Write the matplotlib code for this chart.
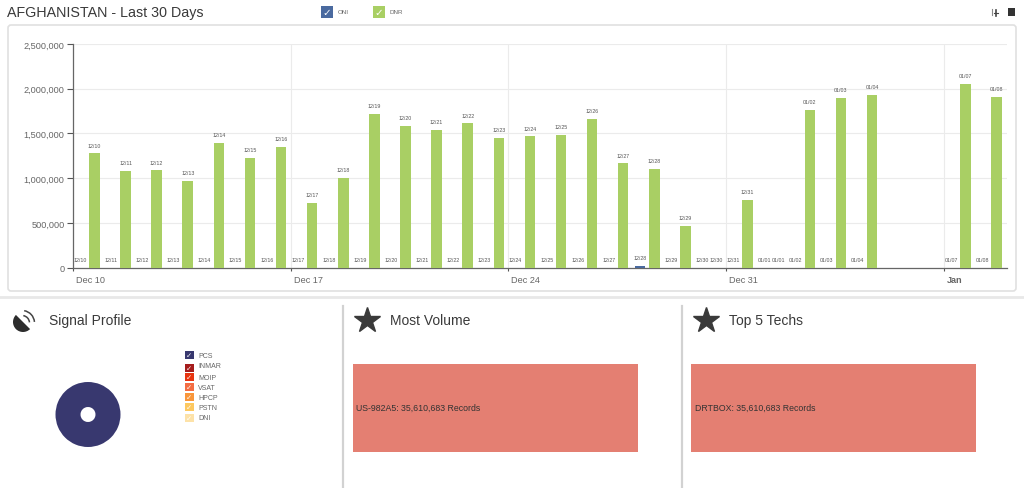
#!/usr/bin/env python3
"""Afghanistan 30 day record volume dashboard."""

import matplotlib
matplotlib.use("Agg")
import matplotlib.pyplot as plt
from matplotlib.patches import Arc, FancyBboxPatch, Rectangle, Wedge
from matplotlib.ticker import FuncFormatter
from matplotlib.transforms import ScaledTranslation

plt.rcParams["font.family"] = ["Liberation Sans", "DejaVu Sans"]

W, H = 1024, 489

# day number counted from Dec 10
days = [0, 1, 2, 3, 4, 5, 6, 7, 8, 9, 10, 11, 12, 13, 14, 15, 16, 17, 18, 19,
        20, 21, 22, 23, 24, 25, 28, 29]
day_labels = ["12/10", "12/11", "12/12", "12/13", "12/14", "12/15", "12/16",
              "12/17", "12/18", "12/19", "12/20", "12/21", "12/22", "12/23",
              "12/24", "12/25", "12/26", "12/27", "12/28", "12/29", "12/30",
              "12/31", "01/01", "01/02", "01/03", "01/04", "01/07", "01/08"]
dnr = [1278000, 1080000, 1088000, 969000, 1397000, 1226000, 1352000, 726000,
       1002000, 1714000, 1583000, 1539000, 1613000, 1449000, 1468000, 1483000,
       1661000, 1166000, 1103000, 466000, 0, 756000, 0, 1765000, 1896000,
       1930000, 2052000, 1910000]
oni = [0, 0, 0, 0, 0, 0, 0, 0, 0, 0, 0, 0, 0, 0, 0, 0, 0, 0, 20000, 0, 0, 0, 0,
       0, 0, 0, 0, 0]

week_ticks = [0, 7, 14, 21, 28]
week_labels = ["Dec 10", "Dec 17", "Dec 24", "Dec 31", "Jan"]
y_ticks = [0, 500000, 1000000, 1500000, 2000000, 2500000]

signal_names = ["PCS", "INMAR", "MOIP", "VSAT", "HPCP", "PSTN", "DNI"]
signal_values = [100, 0, 0, 0, 0, 0, 0]
signal_colors = ["#38386f", "#a51c1c", "#e8340f", "#f46d43", "#f9963b",
                 "#fdc860", "#fde2a8"]
signal_rows = [356, 366, 378, 388, 398, 408, 419]

GREEN = "#a9cf64"
BLUE = "#4a6a9f"
SALMON = "#e47f72"


def check_box(ax, x, y, size, color):
    ax.add_patch(Rectangle((x, y - size / 2), size, size, fc=color, ec="none"))
    ax.text(x + size / 2, y, "\u2713", family="DejaVu Sans", color="white",
            fontsize=size * 0.62, ha="center", va="center", fontweight="bold")


fig = plt.figure(figsize=(W / 100, H / 100), dpi=100, facecolor="white")

# page furniture is drawn in pixel coordinates
bg = fig.add_axes([0, 0, 1, 1], zorder=0)
bg.set_xlim(0, W)
bg.set_ylim(H, 0)
bg.axis("off")

bg.text(7, 13, "AFGHANISTAN - Last 30 Days", fontsize=10.3, color="#3a3a3a",
        va="center")
check_box(bg, 321, 13, 12, BLUE)
bg.text(338, 13, "ONI", fontsize=4.5, color="#666666", va="center")
check_box(bg, 373, 13, 12, GREEN)
bg.text(390, 13, "DNR", fontsize=4.5, color="#666666", va="center")

# top right buttons
bg.add_patch(Rectangle((1008, 9), 6.5, 8, fc="#333333", ec="none"))
bg.plot([992, 992], [10, 16], color="#888888", lw=0.8)
bg.plot([996, 996], [11, 17], color="#444444", lw=1.2)
bg.plot([994, 998], [14, 14], color="#444444", lw=0.8)

bg.add_patch(FancyBboxPatch((8, 26), 1008, 266,
                            boxstyle="round,pad=0,rounding_size=3",
                            fc="white", ec="#e0e0e0", lw=1.2))
bg.plot([0, W], [298, 298], color="#e8e8e8", lw=2)
for x in [343, 682]:
    bg.plot([x, x], [307, H], color="#d2d2d2", lw=1.6)

# panel headings
bg.text(49, 321, "Signal Profile", fontsize=10, color="#3a3a3a", va="center")
bg.text(390, 321, "Most Volume", fontsize=10, color="#3a3a3a", va="center")
bg.text(729, 321, "Top 5 Techs", fontsize=10, color="#3a3a3a", va="center")
bg.plot([367, 706], [321, 321], ls="none", marker="*", ms=19, color="#3a3a3a",
        mec="#3a3a3a")

# satellite dish icon
bg.add_patch(Wedge((23, 323), 10, 45, 225, fc="#2d2d2d", ec="none"))
for d in [15, 25]:
    bg.add_patch(Arc((22, 324), d, d, theta1=-80, theta2=-5, color="#444444",
                     lw=1.1))

# red summary boxes
bg.add_patch(Rectangle((353, 364.5), 285, 88, fc=SALMON, ec="none"))
bg.add_patch(Rectangle((691, 364.5), 285, 88, fc=SALMON, ec="none"))
bg.text(356, 408.5, "US-982A5: 35,610,683 Records", fontsize=6.3,
        color="#333333", va="center")
bg.text(695, 408.5, "DRTBOX: 35,610,683 Records", fontsize=6.3,
        color="#333333", va="center")

# signal legend
for name, color, row in zip(signal_names, signal_colors, signal_rows):
    box_y = row + 3 if name == "INMAR" else row
    check_box(bg, 185, box_y, 8.5, color)
    bg.text(198, row, name, fontsize=5, color="#666666", va="center")

# main bar chart
ax = fig.add_axes([73 / W, 1 - 268.7 / H, 934 / W, 223.7 / H], zorder=1)
ax.patch.set_alpha(0)
x_oni = [d + 0.23 for d in days]
x_dnr = [d + 0.69 for d in days]
ax.bar(x_oni, oni, width=0.34, color=BLUE, zorder=3)
ax.bar(x_dnr, dnr, width=0.34, color=GREEN, zorder=3)
for xs, vals in [(x_oni, oni), (x_dnr, dnr)]:
    for x, v, label in zip(xs, vals, day_labels):
        ax.annotate(label, (x, v), xytext=(0, 6), textcoords="offset points",
                    ha="center", va="center", fontsize=3.8, color="#555555",
                    zorder=4)

ax.set_xlim(0, 30.03)
ax.set_ylim(0, 2500000)
ax.set_yticks(y_ticks)
ax.yaxis.set_major_formatter(FuncFormatter(lambda v, _: f"{int(v):,}"))
ax.set_xticks(week_ticks)
ax.set_xticklabels(week_labels, ha="left")
ax.get_xticklabels()[-1].set_fontweight("bold")
ax.tick_params(axis="y", labelsize=6.6, labelcolor="#666666", length=4,
               width=0.8, color="#555555", pad=2)
ax.tick_params(axis="x", labelsize=6.6, labelcolor="#666666", length=2,
               width=0.8, color="#555555", pad=3.5)
# date labels sit a little right of their tick
nudge = ScaledTranslation(3 / 100, 0, fig.dpi_scale_trans)
for tick in ax.get_xticklabels():
    tick.set_transform(tick.get_transform() + nudge)
ax.grid(True, color="#ebebeb", lw=0.8, zorder=0)
ax.set_axisbelow(True)
for side in ["top", "right"]:
    ax.spines[side].set_visible(False)
for side in ["left", "bottom"]:
    ax.spines[side].set_color("#666666")
    ax.spines[side].set_linewidth(0.9)

# donut
pie_ax = fig.add_axes([(88 - 32.5) / W, 1 - (415.5 + 32.5) / H, 65 / W, 65 / H],
                      zorder=1)
pie_ax.pie(signal_values, colors=signal_colors, radius=1,
           wedgeprops={"width": 0.77, "edgecolor": "none"})
pie_ax.set_xlim(-1, 1)
pie_ax.set_ylim(-1, 1)

fig.savefig("out.png", dpi=100, facecolor="white")
